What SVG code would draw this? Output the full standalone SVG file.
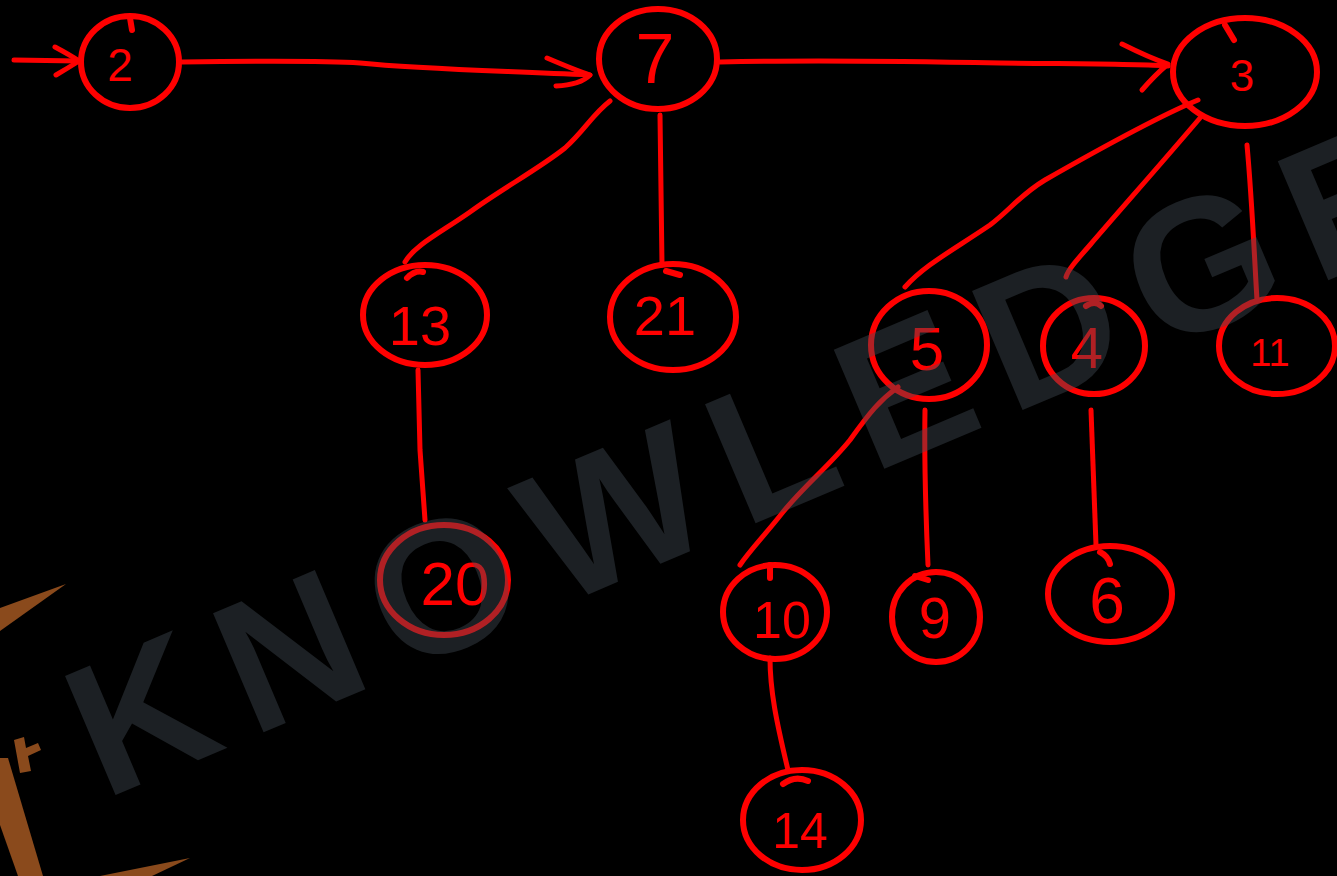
<svg xmlns="http://www.w3.org/2000/svg" width="1337" height="876" viewBox="0 0 1337 876">
<defs>
<style>
.n{fill:none;stroke:#ff0000;stroke-width:6;stroke-linecap:round;stroke-linejoin:round}
.c{fill:none;stroke:#ff0000;stroke-width:5;stroke-linecap:round;stroke-linejoin:round}
.t{fill:#ff0000;font-family:"Liberation Sans",Arial,sans-serif;text-anchor:middle}
.logo{fill:#8a4a1c}
.wm{fill:#434c56;fill-opacity:0.42;font-family:"Liberation Sans",Arial,sans-serif;font-weight:bold;font-size:188px;letter-spacing:25px}
</style>
</defs>
<rect width="1337" height="876" fill="#000000"/>
<g id="logo">
<polygon class="logo" points="0,608 66,584 0,631"/>
<polygon class="logo" points="0,758 8,758 43,876 18,876 0,825"/>
<polygon class="logo" points="14,740 24,737 26,748 38,743 41,750 28,756 31,771 20,773"/>
<polygon class="logo" points="100,876 190,858 152,876"/>
</g>
<g id="connectors">
<path class="c" d="M14,60 L78,61"/>
<path class="c" d="M55,47 Q70,55 79,61 Q68,68 56,75"/>
<path class="c" d="M182,62 C260,61 330,61 360,63 C420,69 480,70 590,75"/>
<path class="c" d="M547,58 Q575,70 590,75 Q580,85 556,86"/>
<path class="c" d="M720,62 C800,60 900,61 1000,63 C1080,64 1140,64 1168,66"/>
<path class="c" d="M1122,44 Q1150,58 1168,64 Q1155,75 1142,90"/>
<path class="c" d="M610,101 C592,115 585,130 565,148 C540,168 500,190 470,212 C440,233 415,245 405,262"/>
<path class="c" d="M660,115 L662,265"/>
<path class="c" d="M418,370 L420,450 L425,520"/>
<path class="c" d="M1198,100 C1150,120 1080,160 1045,180 C1020,195 1010,210 990,225 C950,252 925,265 905,287"/>
<path class="c" d="M1200,118 C1160,165 1120,210 1090,245 C1075,262 1068,270 1066,277"/>
<path class="c" d="M1247,145 C1252,200 1254,250 1257,300"/>
<path class="c" d="M898,387 C880,400 870,412 850,440 C830,465 805,485 783,512 C765,535 750,550 740,565"/>
<path class="c" d="M925,410 C924,470 926,520 928,565"/>
<path class="c" d="M1091,410 C1093,460 1095,510 1096,545"/>
<path class="c" d="M770,658 C770,690 776,720 788,770"/>
</g>
<g id="node-2"><ellipse class="n" cx="130" cy="62" rx="49" ry="46"/><path class="n" d="M130,18 L132,30"/><text class="t" x="120" y="81" font-size="46">2</text></g>
<g id="node-7"><ellipse class="n" cx="658" cy="59" rx="59" ry="50"/><text class="t" x="655" y="83" font-size="70">7</text></g>
<g id="node-3"><ellipse class="n" cx="1245" cy="72" rx="72" ry="54"/><path class="n" d="M1225,25 L1234,40"/><text class="t" x="1242" y="91" font-size="44">3</text></g>
<g id="node-13"><ellipse class="n" cx="425" cy="315" rx="62" ry="50"/><path class="n" d="M407,278 Q415,270 423,272"/><text class="t" x="420" y="345" font-size="56">13</text></g>
<g id="node-21"><ellipse class="n" cx="673" cy="317" rx="63" ry="53"/><path class="n" d="M666,271 L680,275"/><text class="t" x="665" y="335" font-size="56">21</text></g>
<g id="node-20"><ellipse class="n" cx="444" cy="580" rx="64" ry="55"/><text class="t" x="455" y="605" font-size="62">20</text></g>
<g id="node-5"><ellipse class="n" cx="929" cy="345" rx="58" ry="54"/><text class="t" x="927" y="370" font-size="62">5</text></g>
<g id="node-4"><ellipse class="n" cx="1094" cy="346" rx="51" ry="48"/><path class="n" d="M1086,306 Q1095,300 1101,306"/><text class="t" x="1087" y="368" font-size="58">4</text></g>
<g id="node-11"><ellipse class="n" cx="1277" cy="346" rx="58" ry="48"/><text class="t" x="1270" y="366" font-size="38">11</text></g>
<g id="node-10"><ellipse class="n" cx="775" cy="612" rx="52" ry="47"/><path class="n" d="M770,565 L770,578"/><text class="t" x="782" y="638" font-size="52">10</text></g>
<g id="node-9"><ellipse class="n" cx="936" cy="617" rx="44" ry="45"/><path class="n" d="M915,576 L928,580"/><text class="t" x="935" y="638" font-size="58">9</text></g>
<g id="node-6"><ellipse class="n" cx="1110" cy="594" rx="62" ry="48"/><path class="n" d="M1100,552 Q1108,556 1110,564"/><text class="t" x="1107" y="623" font-size="64">6</text></g>
<g id="node-14"><ellipse class="n" cx="802" cy="820" rx="59" ry="50"/><path class="n" d="M783,784 Q795,775 808,781"/><text class="t" x="800" y="848" font-size="50">14</text></g>
<g id="watermark"><text class="wm" transform="translate(104,800) rotate(-23)" x="0" y="0">KNOWLEDGE</text></g>
</svg>
